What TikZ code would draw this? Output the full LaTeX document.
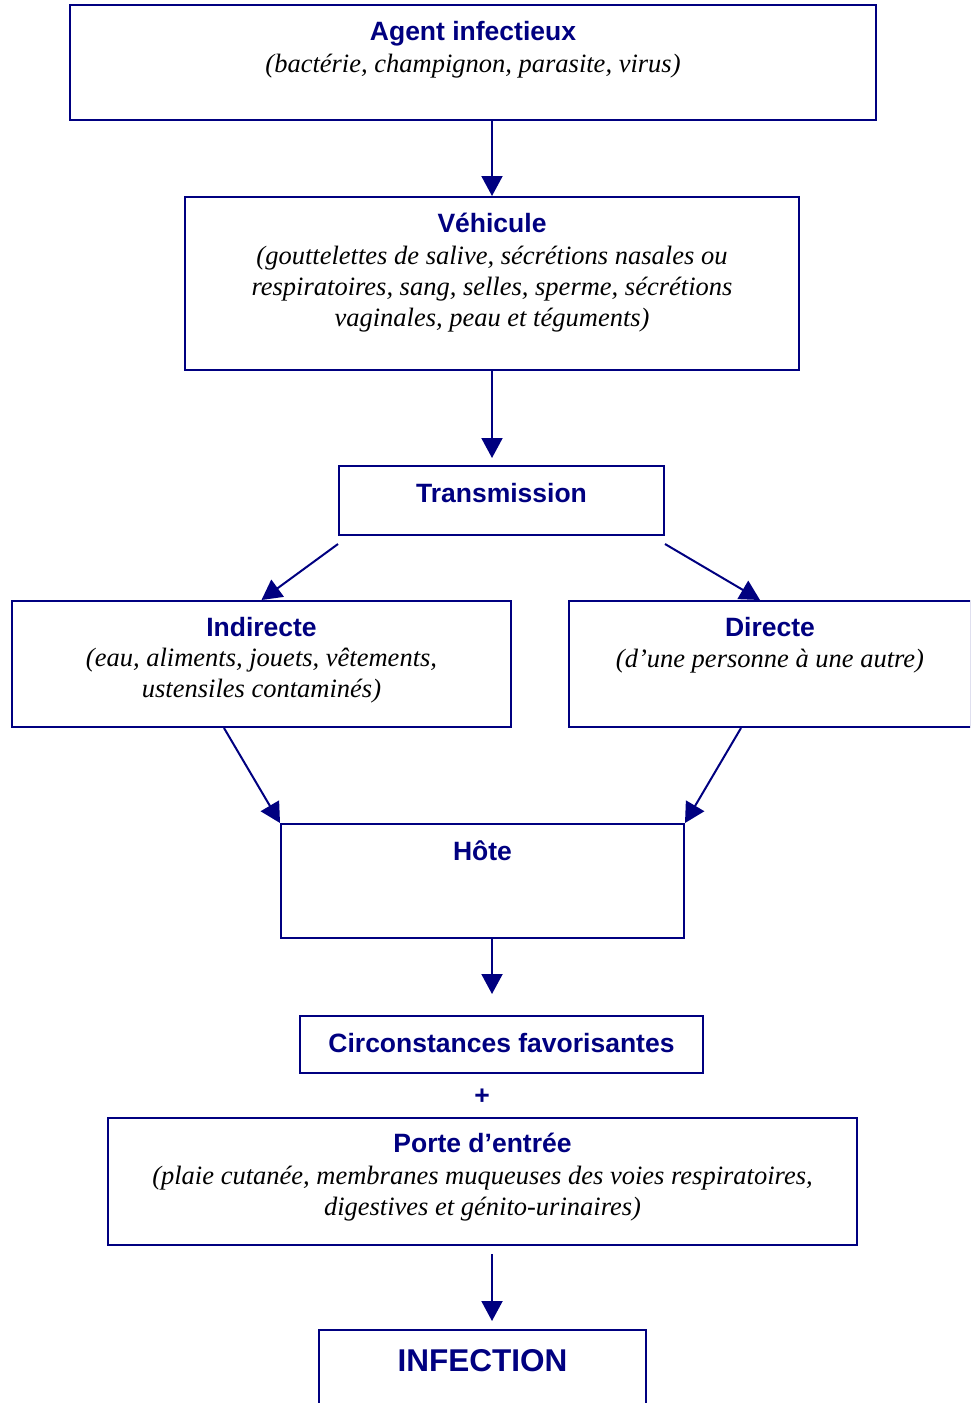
\documentclass[tikz,border=0pt]{standalone}
\usepackage{fontspec}
\setmainfont{Liberation Serif}
\setsansfont{Liberation Sans}
\usetikzlibrary{arrows.meta,positioning}

\definecolor{marine}{RGB}{0,0,128}
\tikzset{
  boite/.style = {draw = marine, line width = 1pt, shape = rectangle, inner sep = 0pt},
  titre/.style = {text = marine, font = \sffamily\bfseries\fontsize{13.25}{15.5}\selectfont, anchor = base, inner sep = 0pt},
  detail/.style = {text = black, font = \itshape\fontsize{13.25}{15.5}\selectfont, align = center, anchor = base, inner sep = 0pt},
  fleche/.style = {draw = marine, line width = 1pt, -{Triangle[length = 10pt, width = 10.5pt]}}
}

\begin{document}
\begin{tikzpicture}[x = 0.5pt, y = -0.5pt]
\path[use as bounding box, clip] (0,0) rectangle (970,1403);

% boites et textes (detail : base de la derniere ligne)
\node[boite, minimum width = 403pt, minimum height = 57.5pt] (agent) at (473,62.5) {};
\node[titre] (agent-t) at (473,40) {Agent infectieux};
\node[detail] (agent-d) at (473,72) {(bactérie, champignon, parasite, virus)};

\node[boite, minimum width = 307pt, minimum height = 86.5pt] (vehicule) at (492,283.5) {};
\node[titre] (vehicule-t) at (492,232) {Véhicule};
\node[detail] (vehicule-d) at (492,326) {(gouttelettes de salive, sécrétions nasales ou\\ respiratoires, sang, selles, sperme, sécrétions\\ vaginales, peau et téguments)};

\node[boite, minimum width = 162.5pt, minimum height = 34.5pt] (trans) at (501.5,500.5) {};
\node[titre] (trans-t) at (501.5,502) {Transmission};

\node[boite, minimum width = 249.5pt, minimum height = 63pt] (indirecte) at (261.5,664) {};
\node[titre] (indirecte-t) at (261.5,636) {Indirecte};
\node[detail] (indirecte-d) at (261.5,697) {(eau, aliments, jouets, vêtements,\\ ustensiles contaminés)};

\node[boite, minimum width = 201pt, minimum height = 63pt] (directe) at (770,664) {};
\node[titre] (directe-t) at (770,636) {Directe};
\node[detail] (directe-d) at (770,667) {(d’une personne à une autre)};

\node[boite, minimum width = 201.5pt, minimum height = 57pt] (hote) at (482.5,881) {};
\node[titre] (hote-t) at (482.5,860) {Hôte};

\node[boite, minimum width = 201.5pt, minimum height = 28.5pt] (circ) at (501.5,1044.5) {};
\node[titre] (circ-t) at (501.5,1052) {Circonstances favorisantes};

\node[titre] (plus) at (482,1104) {+};

\node[boite, minimum width = 374.5pt, minimum height = 63.5pt] (porte) at (482.5,1181.5) {};
\node[titre] (porte-t) at (482.5,1152) {Porte d’entrée};
\node[detail] (porte-d) at (482.5,1215) {(plaie cutanée, membranes muqueuses des voies respiratoires,\\ digestives et génito-urinaires)};

\node[boite, minimum width = 163.5pt, minimum height = 45pt] (infection) at (482.5,1375) {};
\node[titre, font = \sffamily\bfseries\fontsize{15.75}{18}\selectfont] (infection-t) at (482.5,1371) {INFECTION};

% fleches
\coordinate (t-g) at ([yshift = -4pt]trans.south west);
\coordinate (t-d) at ([yshift = -4pt]trans.south east);

\draw[fleche] (agent.south -| vehicule.north) -- (vehicule.north);
\draw[fleche, shorten > = 3.5pt] (vehicule.south) -- (trans.north -| vehicule.south);
\draw[fleche] (t-g) -- (indirecte.north);
\draw[fleche] (t-d) -- ([xshift = -5pt]directe.north);
\draw[fleche] ([xshift = -18.75pt]indirecte.south) -- (hote.north west);
\draw[fleche] ([xshift = -14.5pt]directe.south) -- (hote.north east);
\draw[fleche, shorten > = 10.5pt] ([xshift = 4.75pt]hote.south) -- ([xshift = -4.75pt]circ.north);
\draw[fleche, shorten < = 4pt, shorten > = 4pt] ([xshift = 4.75pt]porte.south) -- ([xshift = 4.75pt]infection.north);
\end{tikzpicture}
\end{document}
